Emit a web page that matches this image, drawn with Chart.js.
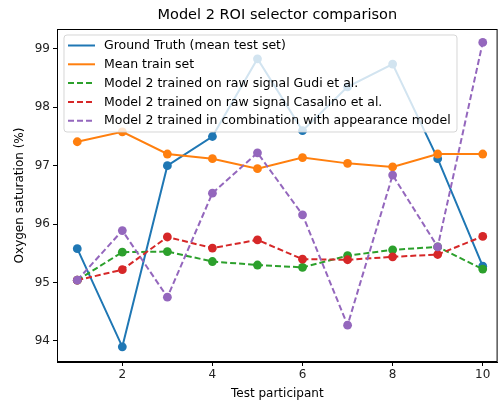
<!DOCTYPE html>
<html>
<head>
<meta charset="utf-8">
<script src="https://cdn.jsdelivr.net/npm/chart.js@4/dist/chart.umd.min.js"></script>
<style>
  html, body { margin: 0; padding: 0; background: #fff; }
  #wrap { width: 502px; height: 403px; position: relative; }
</style>
</head>
<body>
<div id="wrap"><canvas id="roiChart"></canvas></div>
<script>
// Data
const participants = [1, 2, 3, 4, 5, 6, 7, 8, 9, 10];
const groundTruth = [95.58, 93.90, 97.00, 97.50, 98.83, 97.60, 98.35, 98.74, 97.12, 95.28];
const meanTrain = [97.41, 97.58, 97.20, 97.12, 96.95, 97.14, 97.04, 96.98, 97.20, 97.20];
const gudi = [95.04, 95.52, 95.53, 95.36, 95.30, 95.26, 95.46, 95.56, 95.61, 95.23];
const casalino = [95.04, 95.22, 95.78, 95.59, 95.73, 95.40, 95.39, 95.44, 95.48, 95.79];
const appearance = [95.04, 95.89, 94.75, 96.53, 97.22, 96.16, 94.27, 96.84, 95.61, 99.11];
const xTicks = [2, 4, 6, 8, 10];
const yTicks = [94, 95, 96, 97, 98, 99];

const FONT = 'DejaVu Sans';

function pts(values) {
  return participants.map((p, i) => ({ x: p, y: values[i] }));
}

function series(label, values, color, dashed, order) {
  return {
    label: label,
    data: pts(values),
    borderColor: color,
    backgroundColor: color,
    pointBackgroundColor: color,
    pointBorderColor: color,
    pointRadius: 4.4,
    pointBorderWidth: 0,
    borderWidth: 2,
    borderDash: dashed ? [6, 3] : [],
    tension: 0,
    order: order
  };
}

// Title, frame, y label and in-plot legend drawn matplotlib style
const mplDecor = {
  id: 'mplDecor',
  afterDraw(chart) {
    const ctx = chart.ctx;
    const a = chart.chartArea;
    ctx.save();
    // frame
    ctx.strokeStyle = '#000';
    ctx.lineWidth = 1;
    ctx.strokeRect(a.left + 0.5, a.top + 0.5, a.right - a.left - 1, a.bottom - a.top - 1);
    // title
    ctx.fillStyle = '#000';
    ctx.font = '14.5px "' + FONT + '"';
    ctx.textAlign = 'center';
    ctx.textBaseline = 'middle';
    ctx.fillText('Model 2 ROI selector comparison', (a.left + a.right) / 2, 15);
    // y axis label
    ctx.save();
    ctx.translate(20, (a.top + a.bottom) / 2);
    ctx.rotate(-Math.PI / 2);
    ctx.font = '12px "' + FONT + '"';
    ctx.fillText('Oxygen saturation (%)', 0, 0);
    ctx.restore();

    // legend
    const bx = 64, by = 35, bw = 393, bh = 97, r = 3;
    ctx.beginPath();
    ctx.moveTo(bx + r, by);
    ctx.arcTo(bx + bw, by, bx + bw, by + bh, r);
    ctx.arcTo(bx + bw, by + bh, bx, by + bh, r);
    ctx.arcTo(bx, by + bh, bx, by, r);
    ctx.arcTo(bx, by, bx + bw, by, r);
    ctx.closePath();
    ctx.fillStyle = 'rgba(255,255,255,0.8)';
    ctx.fill();
    ctx.strokeStyle = 'rgba(204,204,204,0.8)';
    ctx.lineWidth = 1;
    ctx.stroke();

    ctx.font = '12.5px "' + FONT + '"';
    ctx.textAlign = 'left';
    chart.data.datasets.forEach((ds, i) => {
      const y = 45.5 + i * 18.8;
      ctx.beginPath();
      ctx.setLineDash(ds.borderDash);
      ctx.strokeStyle = ds.borderColor;
      ctx.lineWidth = 2;
      ctx.moveTo(68, y);
      ctx.lineTo(95, y);
      ctx.stroke();
      ctx.setLineDash([]);
      ctx.fillStyle = '#000';
      ctx.fillText(ds.label, 104, y + 0.5);
    });
    ctx.restore();
  }
};

new Chart(document.getElementById('roiChart'), {
  type: 'line',
  data: {
    datasets: [
      series('Ground Truth (mean test set)', groundTruth, '#1f77b4', false, 5),
      series('Mean train set', meanTrain, '#ff7f0e', false, 4),
      series('Model 2 trained on raw signal Gudi et al.', gudi, '#2ca02c', true, 3),
      series('Model 2 trained on raw signal Casalino et al.', casalino, '#d62728', true, 2),
      series('Model 2 trained in combination with appearance model', appearance, '#9467bd', true, 1)
    ]
  },
  options: {
    responsive: true,
    maintainAspectRatio: false,
    animation: false,
    layout: { padding: { top: 29, right: 2, left: 0, bottom: 0 } },
    plugins: {
      legend: { display: false },
      title: { display: false },
      tooltip: { enabled: false }
    },
    scales: {
      x: {
        type: 'linear',
        min: 0.55,
        max: 10.33,
        afterBuildTicks: function(scale) {
          scale.ticks = xTicks.map(v => ({ value: v }));
        },
        afterFit: function(scale) { scale.height = 41; },
        grid: { display: true, drawOnChartArea: false, tickLength: 4, color: '#000' },
        border: { display: true, color: '#000' },
        ticks: { color: '#222', font: { family: FONT, size: 12 }, padding: 2, maxRotation: 0 },
        title: {
          display: true,
          text: 'Test participant',
          color: '#000',
          font: { family: FONT, size: 12 },
          padding: { top: 0, bottom: 2 }
        }
      },
      y: {
        min: 93.64,
        max: 99.34,
        afterBuildTicks: function(scale) {
          scale.ticks = yTicks.map(v => ({ value: v }));
        },
        afterFit: function(scale) { scale.width = 57; },
        grid: { display: true, drawOnChartArea: false, tickLength: 4, color: '#000' },
        border: { display: true, color: '#000' },
        ticks: { color: '#222', font: { family: FONT, size: 12 }, padding: 3 }
      }
    }
  },
  plugins: [mplDecor]
});
</script>
</body>
</html>
